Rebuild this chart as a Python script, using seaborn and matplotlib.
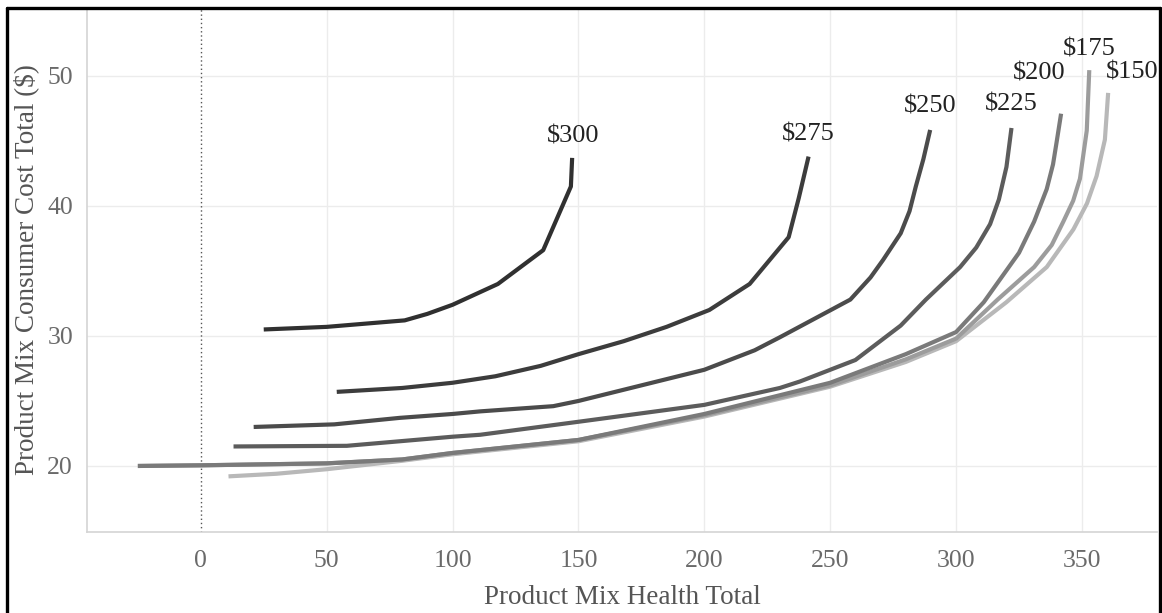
import numpy as np
import pandas as pd
import matplotlib.pyplot as plt
from matplotlib.lines import Line2D
import seaborn as sns

# curves: health total (x) vs consumer cost total (y)
price_labels = ["$150", "$175", "$200", "$225", "$250", "$275", "$300"]

x_150 = [11, 30, 50, 80, 100, 150, 200, 250, 280, 300, 320, 336, 346.6, 352, 355.8, 359.1, 360.4]
y_150 = [19.2, 19.4, 19.75, 20.4, 20.9, 21.9, 23.8, 26.1, 28.0, 29.6, 32.6, 35.3, 38.2, 40.2, 42.3, 45.1, 48.7]

x_175 = [-25, 0, 50, 80, 100, 150, 200, 250, 280, 300, 316.5, 331, 338, 342.6, 346.5, 349.2, 351.9, 352.9]
y_175 = [20.0, 20.05, 20.2, 20.5, 21.0, 22.0, 23.9, 26.2, 28.2, 29.8, 32.8, 35.3, 37.0, 38.8, 40.4, 42.1, 45.8, 50.45]

x_200 = [-25, 0, 50, 80, 100, 150, 200, 250, 280, 300, 311, 325, 331, 336, 338.5, 340, 341.7]
y_200 = [20.0, 20.05, 20.2, 20.5, 21.0, 22.0, 24.0, 26.4, 28.6, 30.3, 32.6, 36.4, 38.8, 41.3, 43.2, 45.0, 47.1]

x_225 = [13, 58, 79, 100, 111, 150, 200, 230, 238, 260, 278, 288, 301.6, 308, 313.5, 317, 320, 322]
y_225 = [21.5, 21.55, 21.9, 22.25, 22.4, 23.4, 24.7, 26.0, 26.5, 28.15, 30.8, 32.8, 35.3, 36.8, 38.6, 40.5, 43.0, 46.0]

x_250 = [21, 53, 79, 100, 111, 140, 150, 200, 220, 230, 258, 266, 271, 278, 281.5, 284, 287, 289.7]
y_250 = [23.0, 23.2, 23.7, 24.0, 24.2, 24.6, 25.0, 27.4, 28.9, 29.9, 32.8, 34.5, 35.85, 37.9, 39.6, 41.5, 43.6, 45.85]

x_275 = [54, 80, 100, 117, 135, 150, 168, 185, 202, 218, 233.5, 237.5, 241.4]
y_275 = [25.7, 26.0, 26.4, 26.9, 27.7, 28.6, 29.6, 30.7, 32.0, 34.0, 37.6, 40.6, 43.8]

x_300 = [25, 50, 81, 90, 100, 118, 136, 147, 147.5]
y_300 = [30.5, 30.7, 31.2, 31.7, 32.4, 34.0, 36.6, 41.5, 43.7]

xs = [x_150, x_175, x_200, x_225, x_250, x_275, x_300]
ys = [y_150, y_175, y_200, y_225, y_250, y_275, y_300]

df = pd.concat(
    [pd.DataFrame({"health": x, "cost": y, "price": p}) for x, y, p in zip(xs, ys, price_labels)],
    ignore_index=True,
)

colors = ["#b8b8b8", "#9c9c9c", "#7a7a7a", "#5c5c5c", "#4b4b4b", "#3c3c3c", "#303030"]
# label offsets (pixels) from each line's end point
label_off = {"$150": (24, 20), "$175": (0, 21), "$200": (-22, 40), "$225": (0, 23),
             "$250": (0, 23), "$275": (0, 22), "$300": (1, 21)}

sns.set_style("white")
plt.rcParams["font.family"] = ["Liberation Serif", "DejaVu Serif"]

fig = plt.figure(figsize=(11.62, 6.13), dpi=100)
ax = fig.add_axes([87 / 1162, 1 - 532 / 613, (1157 - 87) / 1162, (532 - 8) / 613])

sns.lineplot(data=df, x="health", y="cost", hue="price", hue_order=price_labels,
             palette=colors, sort=False, estimator=None, lw=3.0, legend=False, ax=ax,
             solid_capstyle="butt", solid_joinstyle="round")

ax.set_xlim(-45.2, 379.8)
ax.set_ylim(14.92, 55.23)
ax.set_xticks(range(0, 351, 50))
ax.set_yticks([20, 30, 40, 50])
ax.grid(True, color="#ececec", lw=1)
ax.set_axisbelow(True)
ax.get_xgridlines()[0].set_visible(False)
ax.axvline(0, color="#555555", lw=1.0, ls=(0, (1, 2)), zorder=1)

for s in ["top", "right"]:
    ax.spines[s].set_visible(False)
for s in ["left", "bottom"]:
    ax.spines[s].set_color("#d4d4d4")
    ax.spines[s].set_linewidth(1.2)

ax.tick_params(axis="both", which="major", labelsize=18.5, labelcolor="#6a6a6a",
               color="#d4d4d4", length=7, width=1)
ax.tick_params(axis="x", pad=6)
ax.tick_params(axis="y", pad=3)

ax.set_xlabel("Product Mix Health Total", fontsize=19.5, color="#555555", labelpad=9)
ax.set_ylabel("Product Mix Consumer Cost Total ($)", fontsize=19.5, color="#555555", labelpad=6)

for x, y, p in zip(xs, ys, price_labels):
    dx, dy = label_off[p]
    ax.annotate(p, (x[-1], y[-1]), xytext=(dx, dy), textcoords="offset pixels",
                ha="center", va="center", fontsize=19, color="#222222")

# black frame round the picture
fw = 2.4
fig.add_artist(Line2D([7 / 1162, 7 / 1162], [0, 1 - 7.5 / 613], color="black", lw=fw))
fig.add_artist(Line2D([7 / 1162, 1159.5 / 1162], [1 - 7.5 / 613, 1 - 7.5 / 613], color="black", lw=fw))
fig.add_artist(Line2D([1159.5 / 1162, 1159.5 / 1162], [0, 1 - 7.5 / 613], color="black", lw=fw))

fig.savefig("out.png", dpi=100)
